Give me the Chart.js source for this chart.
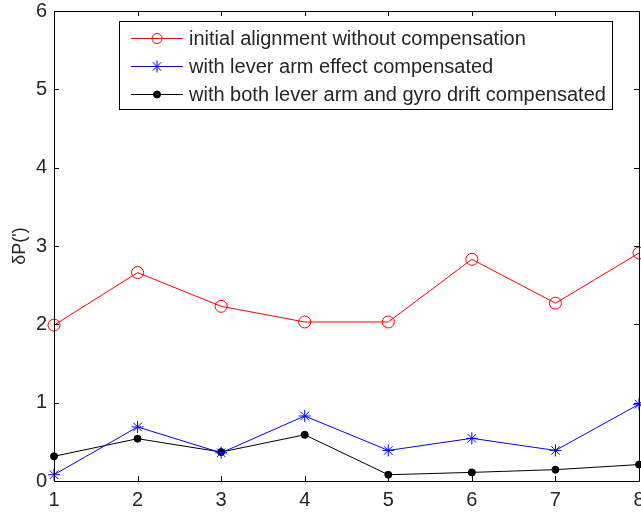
<!DOCTYPE html>
<html>
<head>
<meta charset="utf-8">
<script src="https://cdn.jsdelivr.net/npm/chart.js@4/dist/chart.umd.min.js"></script>
<style>
html,body{margin:0;padding:0;background:#fff;overflow:hidden;}
#wrap{width:641px;height:512px;overflow:hidden;position:relative;}
</style>
</head>
<body>
<div id="wrap"><canvas id="c" width="641" height="512"></canvas></div>
<script>
const xValues = [1, 2, 3, 4, 5, 6, 7, 8];
const xTicks = [1, 2, 3, 4, 5, 6, 7, 8];
const yTicks = [0, 1, 2, 3, 4, 5, 6];
const seriesNames = [
  "initial alignment without compensation",
  "with lever arm effect compensated",
  "with both lever arm and gyro drift compensated"
];
const noCompensation = [1.99, 2.66, 2.23, 2.03, 2.03, 2.83, 2.27, 2.91];
const leverArmCompensated = [0.08, 0.69, 0.36, 0.83, 0.39, 0.545, 0.39, 0.98];
const bothCompensated = [0.315, 0.54, 0.37, 0.59, 0.08, 0.11, 0.145, 0.21];
const yTitle = "δP(')";

const FONT = "'Liberation Sans', Arial, Helvetica, sans-serif";
const TEXT = "#262626";

function pts(vals){ return vals.map((v,i)=>({x:xValues[i], y:v})); }

const boxTicks = {
  id: 'boxTicks',
  afterDatasetsDraw(chart){
    const ctx = chart.ctx, a = chart.chartArea;
    const xs = chart.scales.x, ys = chart.scales.y;
    ctx.save();
    ctx.strokeStyle = '#000';
    ctx.lineWidth = 1;
    ctx.beginPath();
    ctx.rect(Math.round(a.left)+0.5, Math.round(a.top)+0.5, Math.round(a.right-a.left), Math.round(a.bottom-a.top));
    ctx.stroke();
    const L = 5;
    ctx.beginPath();
    xTicks.forEach(t=>{
      const px = Math.round(xs.getPixelForValue(t))+0.5;
      ctx.moveTo(px, a.bottom); ctx.lineTo(px, a.bottom-L);
      ctx.moveTo(px, a.top); ctx.lineTo(px, a.top+L);
    });
    yTicks.forEach(t=>{
      const py = Math.round(ys.getPixelForValue(t))+0.5;
      ctx.moveTo(a.left, py); ctx.lineTo(a.left+L, py);
      ctx.moveTo(a.right, py); ctx.lineTo(a.right-L, py);
    });
    ctx.stroke();
    ctx.restore();
  }
};

const legendBox = {
  id: 'legendBox',
  afterDraw(chart){
    const ctx = chart.ctx;
    const x0 = 119.5, y0 = 21.5, w = 493, h = 88;
    ctx.save();
    ctx.fillStyle = '#fff';
    ctx.fillRect(x0, y0, w, h);
    ctx.strokeStyle = '#000';
    ctx.lineWidth = 1;
    ctx.strokeRect(x0, y0, w, h);
    const rows = [37.5, 66, 94];
    const legendRadius = [5, 6, 3.5];
    chart.data.datasets.forEach((ds, i)=>{
      const y = Math.round(rows[i]) + 0.5;
      ctx.strokeStyle = ds.borderColor;
      ctx.lineWidth = 1;
      ctx.beginPath();
      ctx.moveTo(131, y); ctx.lineTo(183, y);
      ctx.stroke();
      ctx.fillStyle = ds.pointBackgroundColor;
      ctx.strokeStyle = ds.pointBorderColor;
      ctx.lineWidth = 1;
      Chart.helpers.drawPoint(ctx, {pointStyle: ds.pointStyle, radius: legendRadius[i], borderWidth: 1, rotation: 0}, 157, y);
      ctx.fillStyle = TEXT;
      ctx.font = "20px " + FONT;
      ctx.textBaseline = 'middle';
      ctx.textAlign = 'left';
      ctx.fillText(ds.label, 189, y+1);
    });
    ctx.restore();
  }
};

new Chart(document.getElementById('c'), {
  type: 'line',
  data: {
    datasets: [
      {label: seriesNames[0], data: pts(noCompensation), borderColor: '#ff0000', backgroundColor: '#ff0000',
       pointStyle: 'circle', pointRadius: 6, pointBorderColor: '#ff0000', pointBackgroundColor: 'rgba(0,0,0,0)', pointBorderWidth: 1, borderWidth: 1, clip: false},
      {label: seriesNames[1], data: pts(leverArmCompensated), borderColor: '#0000ff', backgroundColor: '#0000ff',
       pointStyle: 'star', pointRadius: 6, pointBorderColor: '#0000ff', pointBackgroundColor: '#0000ff', pointBorderWidth: 1, borderWidth: 1, clip: false},
      {label: seriesNames[2], data: pts(bothCompensated), borderColor: '#000000', backgroundColor: '#000000',
       pointStyle: 'circle', pointRadius: 3.5, pointBorderColor: '#000000', pointBackgroundColor: '#000000', pointBorderWidth: 1, borderWidth: 1, clip: false}
    ]
  },
  options: {
    responsive: false,
    animation: false,
    devicePixelRatio: 1,
    layout: {autoPadding: false, padding: {top: 11, right: 2, left: 0, bottom: 0}},
    plugins: {legend: {display: false}, tooltip: {enabled: false}},
    elements: {line: {tension: 0}},
    scales: {
      x: {
        type: 'linear', min: 1, max: 8,
        grid: {display: false, drawTicks: false},
        border: {display: false},
        afterBuildTicks: s => { s.ticks = xTicks.map(v=>({value:v})); },
        afterFit: s => { s.height = 31; s.paddingLeft = 0; s.paddingRight = 0; },
        ticks: {color: TEXT, font: {family: FONT, size: 20}, padding: 7, maxRotation: 0, autoSkip: false}
      },
      y: {
        type: 'linear', min: 0, max: 6,
        grid: {display: false, drawTicks: false},
        border: {display: false},
        afterBuildTicks: s => { s.ticks = yTicks.map(v=>({value:v})); },
        afterFit: s => { s.width = 54; s.paddingTop = 0; s.paddingBottom = 0; },
        ticks: {color: TEXT, font: {family: FONT, size: 20}, padding: 7},
        title: {display: true, text: yTitle, color: TEXT, font: {family: FONT, size: 18}, padding: {top: 9, bottom: 0}}
      }
    }
  },
  plugins: [boxTicks, legendBox]
});
</script>
</body>
</html>
